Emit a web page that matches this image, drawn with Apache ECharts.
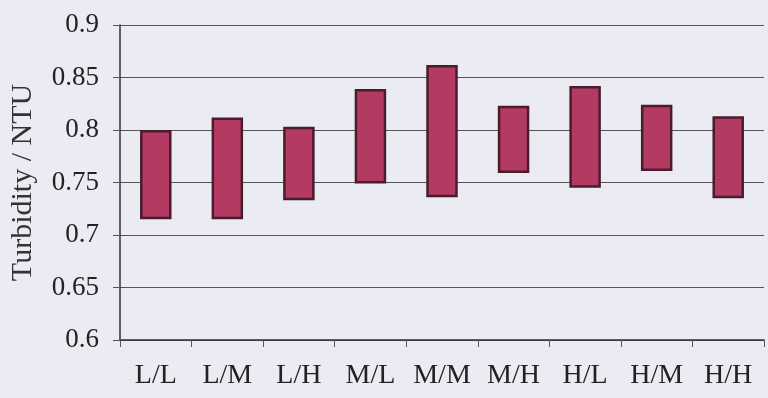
<!DOCTYPE html>
<html>
<head>
<meta charset="utf-8">
<script src="https://cdn.jsdelivr.net/npm/echarts@6/dist/echarts.min.js"></script>
<style>
html, body { margin: 0; padding: 0; background: #ebebf3; }
#chart { width: 768px; height: 398px; }
</style>
</head>
<body>
<div id="chart"></div>
<script>
// categories (treatment level pairs)
var categories = ['L/L', 'L/M', 'L/H', 'M/L', 'M/M', 'M/H', 'H/L', 'H/M', 'H/H'];
// lower and upper turbidity of each range bar
var lowVals = [0.715, 0.715, 0.733, 0.749, 0.736, 0.759, 0.745, 0.761, 0.735];
var highVals = [0.800, 0.812, 0.803, 0.839, 0.862, 0.823, 0.842, 0.824, 0.813];
var yTicks = [0.6, 0.65, 0.7, 0.75, 0.8, 0.85, 0.9];

var spanVals = [];
for (var i = 0; i < lowVals.length; i++) {
	spanVals.push(+(highVals[i] - lowVals[i]).toFixed(3));
}

var chart = echarts.init(document.getElementById('chart'));
var font = 'Liberation Serif';
var option = {
	backgroundColor: '#ebebf3',
	animation: false,
	textStyle: { fontFamily: font },
	grid: {
		left: 120,
		right: 4,
		top: 25,
		bottom: 58,
		outerBoundsMode: 'none'
	},
	xAxis: {
		type: 'category',
		data: categories,
		axisLine: { lineStyle: { color: '#333', width: 1.5 } },
		axisTick: { show: true, length: 7, lineStyle: { color: '#555' } },
		axisLabel: {
			interval: 0,
			margin: 22,
			color: '#222',
			fontFamily: font,
			fontSize: 28
		}
	},
	yAxis: {
		type: 'value',
		min: 0.6,
		max: 0.9,
		interval: 0.05,
		name: 'Turbidity / NTU',
		nameLocation: 'middle',
		nameGap: 82,
		nameRotate: 90,
		nameTextStyle: { color: '#333', fontFamily: font, fontSize: 30 },
		axisLine: { show: true, lineStyle: { color: '#333', width: 1.5 } },
		axisTick: { show: true, length: 7, lineStyle: { color: '#555' } },
		axisLabel: {
			margin: 21,
			color: '#222',
			fontFamily: font,
			fontSize: 27,
			formatter: function(v) {
				return String(+v.toFixed(2));
			}
		},
		splitLine: { lineStyle: { color: '#555', width: 1 } }
	},
	series: [{
		type: 'bar',
		stack: 'range',
		data: lowVals,
		barWidth: '44%',
		itemStyle: { color: 'transparent' },
		silent: true
	}, {
		type: 'bar',
		stack: 'range',
		data: spanVals,
		barWidth: '44%',
		itemStyle: {
			color: '#b23a63',
			borderColor: '#4a1c2c',
			borderWidth: 2.5
		}
	}]
};
chart.setOption(option);
</script>
</body>
</html>
